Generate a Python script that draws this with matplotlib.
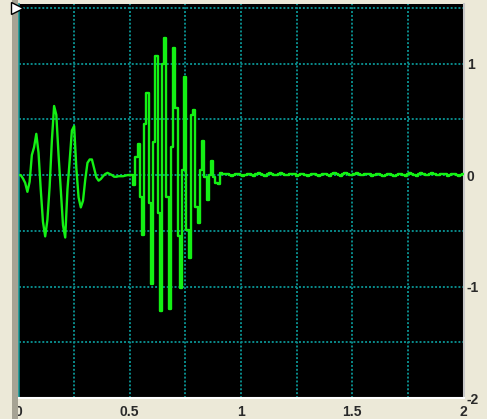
import numpy as np
import matplotlib
matplotlib.use("Agg")
import matplotlib.pyplot as plt
from matplotlib.patches import Rectangle
from matplotlib.lines import Line2D

# Signal sampled every 10 ms
SAMPLE_PERIOD = 0.01

# 0.00 .. 0.50 s : slow burst
first_burst = [
    0.00, 0.00, -0.03, -0.07, -0.15, -0.06, 0.18, 0.25, 0.37, 0.20,
    -0.13, -0.42, -0.55, -0.40, -0.10, 0.31, 0.62, 0.54, 0.18, -0.13,
    -0.45, -0.56, -0.13, 0.13, 0.40, 0.44, 0.06, -0.20, -0.29, -0.23,
    -0.04, 0.11, 0.14, 0.14, 0.06, -0.02, -0.05, -0.035, -0.01, 0.01,
    0.02, 0.01, 0.00, -0.015, -0.015, -0.01, -0.01, -0.01, -0.005, 0.00,
    0.00,
]

# 0.51 .. 0.92 s : fast burst
second_burst = [
    0.00, -0.09, 0.16, 0.28, -0.20, -0.54, 0.46, 0.74, -0.25, -0.98,
    0.30, 1.07, -0.34, -1.22, 1.00, 1.23, -0.20, -1.20, 0.25, 1.14,
    0.60, -0.55, -1.01, 0.05, 0.88, -0.49, -0.74, 0.54, 0.58, -0.29,
    -0.43, 0.05, 0.31, -0.02, -0.22, 0.00, 0.13, -0.02, -0.07, -0.08,
    0.02, 0.01,
]

# 0.93 .. 2.00 s : residual ripple
tail = [
    0.012, 0.014, 0.004, -0.004, 0.002, 0.013, 0.014, 0.003, -0.005, 0.004, 0.014, 0.012,
    0.001, -0.004, 0.006, 0.015, 0.011, 0.000, -0.004, 0.008, 0.015, 0.010, -0.002, -0.003,
    0.010, 0.015, 0.008, -0.003, -0.002, 0.011, 0.014, 0.006, -0.004, 0.000, 0.012, 0.014,
    0.005, -0.004, 0.002, 0.013, 0.013, 0.003, -0.005, 0.004, 0.014, 0.012, 0.001, -0.004,
    0.006, 0.015, 0.011, 0.000, -0.004, 0.008, 0.015, 0.010, -0.002, -0.003, 0.010, 0.015,
    0.008, -0.003, -0.002, 0.011, 0.014, 0.006, -0.004, 0.000, 0.012, 0.014, 0.005, -0.004,
    0.002, 0.013, 0.013, 0.003, -0.005, 0.004, 0.014, 0.012, 0.001, -0.004, 0.006, 0.015,
    0.011, 0.000, -0.004, 0.008, 0.015, 0.010, -0.002, -0.003, 0.010, 0.015, 0.008, -0.003,
    -0.002, 0.011, 0.014, 0.006, -0.004, 0.000, 0.012, 0.014, 0.005, -0.004, 0.002, 0.013,
]

x_ticks = [0, 0.5, 1, 1.5, 2]
x_tick_labels = ["0", "0.5", "1", "1.5", "2"]
y_ticks = [1, 0, -1, -2]
y_tick_labels = ["1", "0", "-1", "-2"]
x_grid = [0.25, 0.5, 0.75, 1.0, 1.25, 1.5, 1.75]
y_grid = [1.5, 1.0, 0.5, 0.0, -0.5, -1.0, -1.5]

signal = np.array(first_burst + second_burst + tail)
t = np.arange(signal.size) * SAMPLE_PERIOD
n_first = len(first_burst)

W, H = 487, 419
BG = "#ECE9D8"
GRID = "#0A8C8C"
TRACE = "#14F014"

plt.rcParams["font.family"] = ["Liberation Sans", "DejaVu Sans"]

fig = plt.figure(figsize=(W / 100, H / 100), dpi=100, facecolor=BG)

# left scroll strip
fig.add_artist(Rectangle((12 / W, 0), 6 / W, 1, transform=fig.transFigure,
                         facecolor="#A6A394", edgecolor="none"))

left, right, top, bottom = 18.5, 463.5, 4, 398
ax = fig.add_axes([left / W, (H - bottom) / H, (right - left) / W, (bottom - top) / H])
ax.set_facecolor("black")
ax.set_xlim(0, 2)
ax.set_ylim(-2, 1.535)

for gx in x_grid:
    ax.axvline(gx, color=GRID, lw=1.4, ls=(0, (1, 1.0)), zorder=1)
for gy in y_grid:
    ax.axhline(gy, color=GRID, lw=1.4, ls=(0, (1, 1.0)), zorder=1)

# slow part as a polyline, fast part sample-and-hold
ax.plot(t[:n_first], signal[:n_first], color=TRACE, lw=1.7, zorder=3)
ax.plot(t[n_first - 1:], signal[n_first - 1:], color=TRACE, lw=1.7,
        drawstyle="steps-mid", zorder=3)

ax.set_xticks(x_ticks, x_tick_labels)
ax.yaxis.tick_right()
ax.set_yticks(y_ticks, y_tick_labels)
ax.tick_params(axis="x", length=0, pad=5, labelsize=10, labelcolor="#2A2A2A")
ax.tick_params(axis="y", length=0, pad=2.5, labelsize=10, labelcolor="#2A2A2A")
for lab in ax.get_xticklabels() + ax.get_yticklabels():
    lab.set_fontweight("bold")

ax.spines["top"].set_visible(False)
ax.spines["left"].set_color(GRID)
ax.spines["left"].set_linewidth(1.2)
ax.spines["bottom"].set_color("#FFFFFF")
ax.spines["bottom"].set_linewidth(1.5)
ax.spines["right"].set_color("#C8C8C8")
ax.spines["right"].set_linewidth(1.5)

# cursor marker in the corner
fig.add_artist(Line2D([17 / W], [1 - 8 / H], marker=">", ms=8, mfc="white",
                      mec="black", mew=1.0, transform=fig.transFigure))

fig.savefig("out.png", dpi=100, facecolor=BG)
